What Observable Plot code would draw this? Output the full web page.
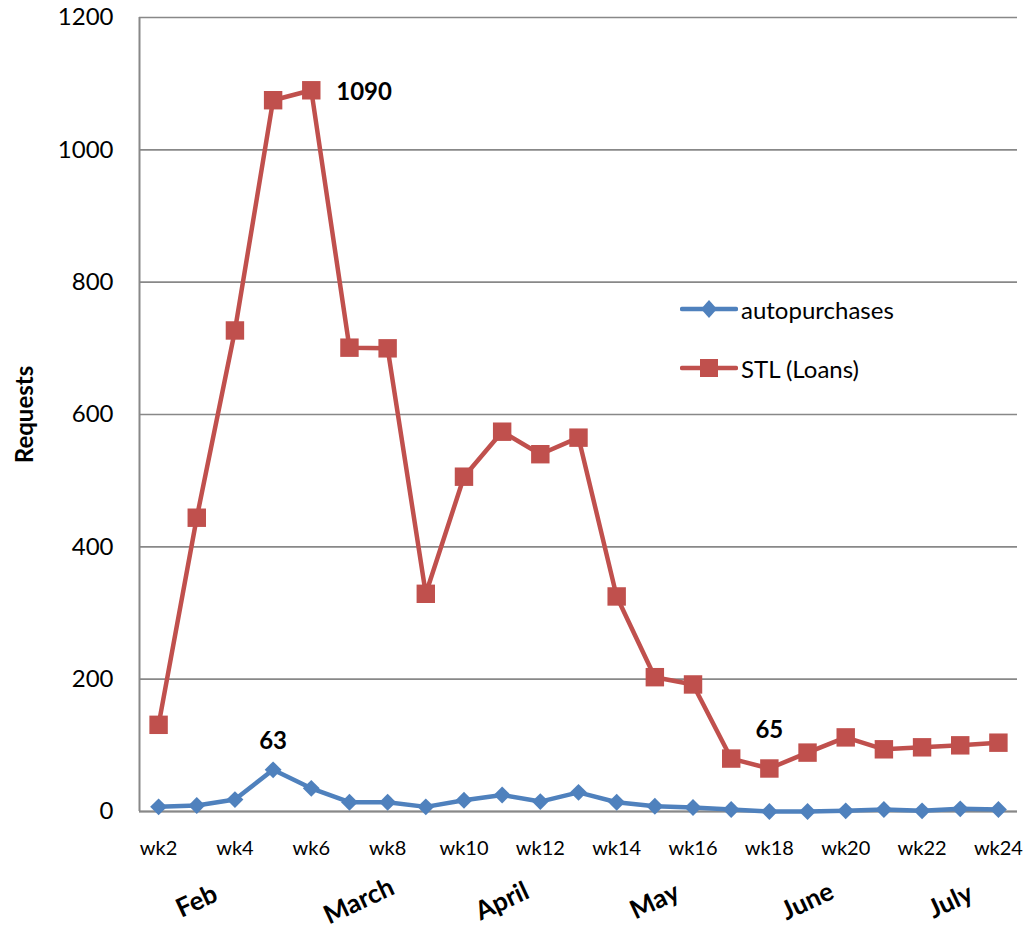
<!DOCTYPE html>
<html>
<head>
<meta charset="utf-8">
<script src="https://cdn.jsdelivr.net/npm/d3@7"></script>
<script src="https://cdn.jsdelivr.net/npm/@observablehq/plot@0.6"></script>
<style>
  body { margin: 0; background: #fff; font-family: Lato, "Open Sans", sans-serif; }
  #wrap { position: relative; width: 1028px; height: 930px; }
  #legend { position: absolute; left: 680px; top: 292px; font-family: Lato, sans-serif; font-size: 24px; color: #000; }
  .lg { display: flex; align-items: center; height: 34px; margin-bottom: 25px; }
  .lg svg { margin-right: 3px; }
</style>
</head>
<body>
<div id="wrap"></div>
<script>
// ---- data ----
const weeks = [2, 3, 4, 5, 6, 7, 8, 9, 10, 11, 12, 13, 14, 15, 16, 17, 18, 19, 20, 21, 22, 23, 24];
const autopurchases = [7, 9, 18, 63, 35, 14, 14, 7, 17, 25, 15, 29, 14, 8, 6, 3, 0, 0, 1, 3, 1, 4, 3];
const stlLoans = [131, 444, 727, 1075, 1090, 701, 700, 329, 506, 574, 540, 565, 325, 203, 192, 80, 65, 89, 112, 94, 97, 100, 104];
const seriesNames = ["autopurchases", "STL (Loans)"];
const seriesColors = ["#4F81BD", "#C0504D"];
const tickWeeks = [2, 4, 6, 8, 10, 12, 14, 16, 18, 20, 22, 24];
const tickLabels = ["wk2", "wk4", "wk6", "wk8", "wk10", "wk12", "wk14", "wk16", "wk18", "wk20", "wk22", "wk24"];
const yTicks = [0, 200, 400, 600, 800, 1000, 1200];
const months = ["Feb", "March", "April", "May", "June", "July"];
const monthWeeks = [3, 7.25, 11, 15, 19, 22.75];
const xDomain = [1.5, 24.5];

const autoRows = weeks.map((w, i) => ({week: w, value: autopurchases[i], series: seriesNames[0]}));
const stlRows = weeks.map((w, i) => ({week: w, value: stlLoans[i], series: seriesNames[1]}));
const monthRows = months.map((m, i) => ({name: m, week: monthWeeks[i]}));

const peakStl = stlRows.filter(d => d.value === 1090);
const lowStl = stlRows.filter(d => d.value === 65);
const peakAuto = autoRows.filter(d => d.value === 63);

const grid = "#888888";
const font = "Lato, 'Open Sans', sans-serif";

const chart = Plot.plot({
  width: 1028,
  height: 930,
  marginLeft: 139,
  marginRight: 11,
  marginTop: 17,
  marginBottom: 119,
  style: {fontFamily: font, color: "#000", background: "#fff"},
  x: {domain: xDomain, label: null},
  y: {domain: [0, 1200], label: null},
  marks: [
    Plot.gridY(yTicks, {stroke: grid, strokeOpacity: 1, strokeWidth: 1.6}),
    Plot.ruleX([xDomain[0]], {stroke: grid, strokeWidth: 2}),
    Plot.ruleY([0], {stroke: grid, strokeWidth: 2}),
    Plot.axisY({ticks: yTicks, tickFormat: (d) => String(d), tickSize: 0, tickPadding: 26, fontSize: 24, label: null}),
    Plot.axisX({ticks: tickWeeks, tickFormat: (d) => tickLabels[tickWeeks.indexOf(d)], tickSize: 0, tickPadding: 29, fontSize: 20, label: null}),
    Plot.line(autoRows, {x: "week", y: "value", stroke: seriesColors[0], strokeWidth: 4.5}),
    Plot.dot(autoRows, {x: "week", y: "value", symbol: "diamond2", r: 7.6, fill: seriesColors[0], stroke: null}),
    Plot.line(stlRows, {x: "week", y: "value", stroke: seriesColors[1], strokeWidth: 4.5}),
    Plot.dot(stlRows, {x: "week", y: "value", symbol: "square", r: 10.4, fill: seriesColors[1], stroke: null}),
    Plot.text(peakStl, {x: "week", y: "value", text: (d) => String(d.value), dx: 25, dy: 2, textAnchor: "start", fontSize: 24, fontWeight: "bold"}),
    Plot.text(peakAuto, {x: "week", y: "value", text: (d) => String(d.value), dy: -29, fontSize: 24, fontWeight: "bold"}),
    Plot.text(lowStl, {x: "week", y: "value", text: (d) => String(d.value), dy: -38, fontSize: 24, fontWeight: "bold"}),
    Plot.text(monthRows, {x: "week", text: "name", frameAnchor: "bottom", textAnchor: "middle", lineAnchor: "middle", dy: 90, rotate: -25, fontSize: 26, fontWeight: "bold"}),
    Plot.text(["Requests"], {frameAnchor: "left", textAnchor: "middle", lineAnchor: "middle", dx: -114, rotate: -90, fontSize: 24, fontWeight: "bold"})
  ]
});

const wrap = document.getElementById("wrap");
wrap.appendChild(chart);

// legend overlay
const legend = document.createElement("div");
legend.id = "legend";
const shapes = [
  `<path d="M19 8 L27 17 L19 26 L11 17 Z" fill="${seriesColors[0]}"/>`,
  `<rect x="19" y="8" width="18" height="18" transform="translate(-9,0)" fill="${seriesColors[1]}"/>`
];
seriesNames.forEach((name, i) => {
  const row = document.createElement("div");
  row.className = "lg";
  row.innerHTML = `<svg width="58" height="34"><line x1="2" y1="17" x2="56" y2="17" stroke="${seriesColors[i]}" stroke-width="4.5" stroke-linecap="round"/>` +
    `<g transform="translate(10,0)">${shapes[i]}</g></svg><span>${name}</span>`;
  legend.appendChild(row);
});
wrap.appendChild(legend);
</script>
</body>
</html>
